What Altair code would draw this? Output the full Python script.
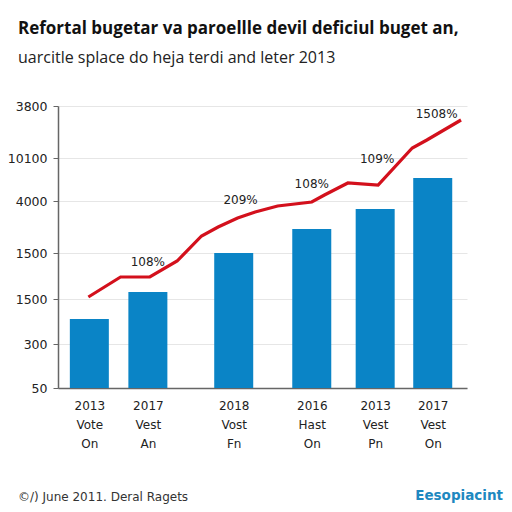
import altair as alt
import pandas as pd

# Bars (x position in axis units, height in axis units)
bar_x = [27, 87, 175, 255, 320, 379]
bar_h = [69, 96, 135, 159, 179, 210]
bar_labels = [["2013", "Vote", "On"], ["2017", "Vest", "An"], ["2018", "Vost", "Fn"],
              ["2016", "Hast", "On"], ["2013", "Vest", "Pn"], ["2017", "Vest", "On"]]

# Red line series
line_x = [26, 59, 89, 117, 142, 159, 179, 197, 220, 255, 268, 292, 323, 358, 373, 408]
line_y = [91, 111, 111, 127, 152, 161, 170, 176, 182, 186, 193, 205, 203, 240, 248, 268]

# Percentage annotations
pct_text = ["108%", "209%", "108%", "109%", "1508%"]
pct_x = [87, 182, 255, 322, 383]
pct_y = [126, 188, 204, 229, 274]

# Y tick positions and their labels
y_ticks = [0, 44, 89, 135, 187, 230, 282]
y_tick_labels = ["50", "300", "1500", "1500", "4000", "10100", "3800"]

title = "Refortal bugetar va paroellle devil deficiul buget an,"
subtitle = "uarcitle splace do heja terdi and leter 2013"
footer = "\u00a9/) June 2011. Deral Ragets"
brand = "Eesopiacint"

FONT = "DejaVu Sans"

def y_label_expr():
    expr = "''"
    for v, l in zip(y_ticks, y_tick_labels):
        expr = f"datum.value == {v} ? '{l}' : ({expr})"
    return expr

def x_label_expr():
    expr = "''"
    for v, l in zip(bar_x, bar_labels):
        arr = "[" + ",".join(f"'{s}'" for s in l) + "]"
        expr = f"datum.value == {v} ? {arr} : ({expr})"
    return expr

bars_df = pd.DataFrame({"x": bar_x, "h": bar_h})
line_df = pd.DataFrame({"x": line_x, "y": line_y})
pct_df = pd.DataFrame({"x": pct_x, "y": pct_y, "t": pct_text})

xscale = alt.Scale(domain=[0, 409], nice=False, zero=False)
yscale = alt.Scale(domain=[0, 282], nice=False)

bars = alt.Chart(bars_df).mark_bar(size=39, color="#0a84c6").encode(
    x=alt.X("x:Q", scale=xscale, axis=alt.Axis(
        values=bar_x, labelExpr=x_label_expr(), title=None, grid=False,
        ticks=False, labelFont=FONT, labelFontSize=12, labelColor="#222",
        labelPadding=12, labelLineHeight=19, domainColor="#666", domainWidth=1.5,
        labelBaseline="top")),
    y=alt.Y("h:Q", scale=yscale, axis=alt.Axis(
        values=y_ticks, labelExpr=y_label_expr(), title=None, grid=True,
        gridColor="#e6e6e6", ticks=True, tickSize=5, tickColor="#666",
        domainColor="#666", domainWidth=1.5, labelFont=FONT, labelFontSize=12.5,
        labelColor="#222", labelPadding=6)),
)

line = alt.Chart(line_df).mark_line(color="#d3101c", strokeWidth=3.2).encode(
    x=alt.X("x:Q", scale=xscale), y=alt.Y("y:Q", scale=yscale)
)

pct = alt.Chart(pct_df).mark_text(font=FONT, fontSize=12, color="#222",
                                  baseline="middle").encode(
    x=alt.X("x:Q", scale=xscale), y=alt.Y("y:Q", scale=yscale), text="t:N"
)

foot = alt.Chart(pd.DataFrame({"t": [footer]})).mark_text(
    font=FONT, fontSize=12, color="#333", align="left", baseline="middle"
).encode(x=alt.value(-40), y=alt.value(391), text="t:N")

logo = alt.Chart(pd.DataFrame({"t": [brand]})).mark_text(
    font=FONT, fontSize=13.5, fontWeight="bold", color="#1e88c0", align="right",
    baseline="middle"
).encode(x=alt.value(445), y=alt.value(390), text="t:N")

chart = alt.layer(bars, line, pct, foot, logo).properties(
    width=409, height=282,
    autosize=alt.AutoSizeParams(type="none"),
    padding={"left": 50, "top": 98, "right": 37, "bottom": 116},
    title=alt.TitleParams(
        text=title, subtitle=subtitle, anchor="start", frame="group", dx=-40,
        offset=33, font="Open Sans", fontSize=17, fontWeight="bold", color="#111",
        subtitleFont="Open Sans", subtitleFontSize=16, subtitleColor="#222",
        subtitlePadding=12),
).configure_view(stroke=None)

chart.save("out.html", embed_options={"renderer": "svg", "actions": False})
